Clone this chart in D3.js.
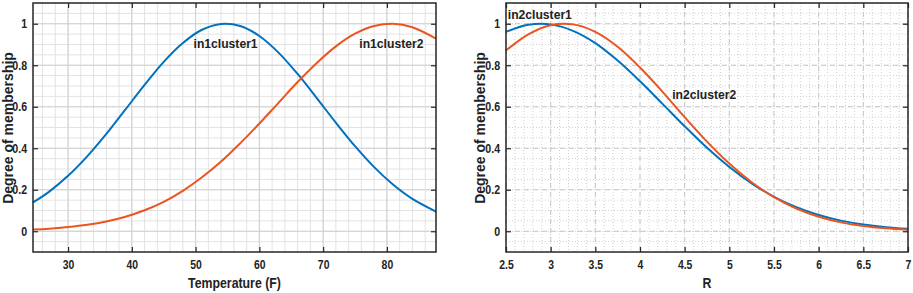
<!DOCTYPE html>
<html lang="en">
<head>
<meta charset="UTF-8">
<title>Membership functions</title>
<style>
    body { margin: 0; background: #fff; }
    svg { display: block; }
    text { font-family: "Liberation Sans", Arial, sans-serif; font-weight: bold; fill: #222; }
</style>
</head>
<body>
<svg></svg>
<script src="https://cdn.jsdelivr.net/npm/d3@7"></script>
<script>
// DATA
// input 1: temperature
const tempX = [24.5, 27, 30, 33, 36, 39, 42, 45, 48, 51, 54, 57, 60, 63, 66, 69, 72, 75, 78, 81, 84, 87.7];
const in1cluster1 = [0.139, 0.190, 0.267, 0.361, 0.469, 0.587, 0.705, 0.816, 0.907, 0.971, 0.999, 0.989,
                     0.941, 0.861, 0.758, 0.642, 0.523, 0.410, 0.309, 0.224, 0.156, 0.095];
const in1cluster2 = [0.008, 0.012, 0.020, 0.031, 0.047, 0.070, 0.101, 0.142, 0.195, 0.260, 0.336, 0.424,
                     0.519, 0.619, 0.719, 0.811, 0.891, 0.952, 0.989, 1.000, 0.983, 0.928];
// input 2: R
const rX = [2.5, 2.75, 3, 3.25, 3.5, 3.75, 4, 4.25, 4.5, 4.75, 5, 5.25, 5.5, 5.75, 6, 6.25, 6.5, 6.75, 7];
const in2cluster1 = [0.961, 0.995, 0.997, 0.966, 0.907, 0.823, 0.723, 0.615, 0.506, 0.402, 0.310, 0.231,
                     0.166, 0.116, 0.0785, 0.0513, 0.0324, 0.0198, 0.0117];
const in2cluster2 = [0.871, 0.949, 0.993, 0.997, 0.961, 0.889, 0.789, 0.673, 0.550, 0.432, 0.326, 0.236,
                     0.164, 0.109, 0.0697, 0.0428, 0.0252, 0.0143, 0.0077];

const tempTicks = [30, 40, 50, 60, 70, 80];
const rTicks = [2.5, 3, 3.5, 4, 4.5, 5, 5.5, 6, 6.5, 7];
const memTicks = [0, 0.2, 0.4, 0.6, 0.8, 1];

const BLUE = "#0072BD", ORANGE = "#EA5520";

const svg = d3.select("svg").attr("width", 913).attr("height", 293);
const plotTop = 3, plotBottom = 252;
const squeeze = "scale(0.85,1)";

function panel(o) {
    const w = o.right - o.left, h = plotBottom - plotTop;
    const g = svg.append("g").attr("transform", `translate(${o.left},${plotTop})`);
    const x = d3.scaleLinear().domain(o.xDomain).range([0, w]);
    const y = d3.scaleLinear().domain([-0.1, 1.1]).range([h, 0]);

    // minor grid
    const grid = g.append("g");
    grid.selectAll(".mx").data(o.xMinor).join("line")
        .attr("x1", d => x(d)).attr("x2", d => x(d)).attr("y1", 0).attr("y2", h)
        .attr("stroke", o.minorColor).attr("stroke-dasharray", o.minorDash);
    grid.selectAll(".my").data(d3.range(-0.05, 1.1, 0.05)).join("line")
        .attr("y1", d => y(d)).attr("y2", d => y(d)).attr("x1", 0).attr("x2", w)
        .attr("stroke", o.minorColor).attr("stroke-dasharray", o.minorDash);
    // major grid
    grid.selectAll(".Mx").data(o.xTicks).join("line")
        .attr("x1", d => x(d)).attr("x2", d => x(d)).attr("y1", 0).attr("y2", h)
        .attr("stroke", o.majorColor).attr("stroke-dasharray", o.majorDash);
    grid.selectAll(".My").data(memTicks).join("line")
        .attr("y1", d => y(d)).attr("y2", d => y(d)).attr("x1", 0).attr("x2", w)
        .attr("stroke", o.majorColor).attr("stroke-dasharray", o.majorDash);

    // curves
    const line = d3.line().x(d => x(d[0])).y(d => y(d[1])).curve(d3.curveCatmullRom.alpha(0.5));
    o.series.forEach(s => {
        g.append("path")
            .datum(o.xs.map((v, i) => [v, s.values[i]]))
            .attr("d", line)
            .attr("fill", "none")
            .attr("stroke", s.color)
            .attr("stroke-width", 2);
    });

    // axes: ticks inward on all four sides
    const fmt = d3.format("");
    const xa = g.append("g").attr("transform", `translate(0,${h})`)
        .call(d3.axisBottom(x).tickValues(o.xTicks).tickFormat(fmt).tickSizeInner(-5).tickSizeOuter(0).tickPadding(8));
    const ya = g.append("g")
        .call(d3.axisLeft(y).tickValues(memTicks).tickFormat(fmt).tickSizeInner(-5).tickSizeOuter(0).tickPadding(7));
    g.append("g")
        .call(d3.axisTop(x).tickValues(o.xTicks).tickFormat("").tickSizeInner(-5).tickSizeOuter(0));
    g.append("g").attr("transform", `translate(${w},0)`)
        .call(d3.axisRight(y).tickValues(memTicks).tickFormat("").tickSizeInner(-5).tickSizeOuter(0));
    g.selectAll(".domain").remove();
    g.selectAll(".tick line").attr("stroke", "#262626").attr("stroke-width", 1.2);
    g.selectAll(".tick text")
        .style("font-family", "'Liberation Sans', Arial, sans-serif")
        .style("font-weight", "bold")
        .attr("fill", "#222");
    xa.selectAll(".tick text").attr("transform", "scale(0.8,1)").style("font-size", "13px");
    ya.selectAll(".tick text").attr("transform", squeeze).style("font-size", "12.5px");

    // frame
    g.append("rect").attr("width", w).attr("height", h)
        .attr("fill", "none").attr("stroke", "#262626").attr("stroke-width", 1.5);

    // axis labels
    svg.append("text")
        .attr("transform", `translate(${o.left + w / 2},288) ${squeeze}`)
        .attr("text-anchor", "middle").style("font-size", "14.5px")
        .text(o.xLabel);
    svg.append("text")
        .attr("transform", `translate(${o.yLabelX},128) rotate(-90)`)
        .attr("text-anchor", "middle").attr("dy", "0.35em").style("font-size", "14px")
        .text("Degree of membership");

    // curve names
    o.names.forEach(n => {
        g.append("text")
            .attr("transform", `translate(${x(n.x)},${y(n.y)}) scale(0.9,1)`)
            .attr("text-anchor", n.anchor).style("font-size", "13.5px")
            .text(n.text);
    });
}

panel({
    left: 33, right: 436,
    xDomain: [24.5, 87.7],
    xs: tempX,
    xTicks: tempTicks,
    xMinor: d3.range(26, 88, 2),
    minorColor: "#e3e3e3", minorDash: null,
    majorColor: "#d0d0d0", majorDash: null,
    series: [{values: in1cluster1, color: BLUE}, {values: in1cluster2, color: ORANGE}],
    xLabel: "Temperature (F)",
    yLabelX: 8,
    names: [
        {text: "in1cluster1", x: 54.7, y: 0.885, anchor: "middle"},
        {text: "in1cluster2", x: 80.7, y: 0.885, anchor: "middle"}
    ]
});

panel({
    left: 506, right: 908,
    xDomain: [2.5, 7],
    xs: rX,
    xTicks: rTicks,
    xMinor: d3.range(2.6, 7, 0.1),
    minorColor: "#d0d0d0", minorDash: "1,2",
    majorColor: "#c6c6c6", majorDash: "5,4",
    series: [{values: in2cluster1, color: BLUE}, {values: in2cluster2, color: ORANGE}],
    xLabel: "R",
    yLabelX: 480,
    names: [
        {text: "in2cluster1", x: 2.52, y: 1.024, anchor: "start"},
        {text: "in2cluster2", x: 4.36, y: 0.638, anchor: "start"}
    ]
});
</script>
</body>
</html>
